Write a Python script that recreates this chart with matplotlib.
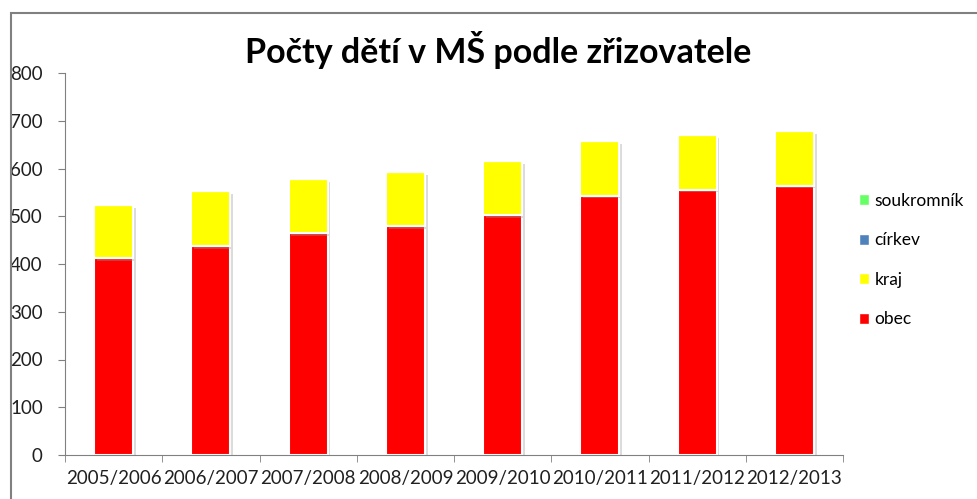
import numpy as np
import matplotlib.pyplot as plt
import matplotlib.patheffects as pe
from matplotlib.patches import Rectangle, Patch

# Data
roky = ['2005/2006', '2006/2007', '2007/2008', '2008/2009',
        '2009/2010', '2010/2011', '2011/2012', '2012/2013']
obec = [413, 438, 464, 480, 503, 543, 556, 564]
kraj = [111, 115, 114, 113, 113, 115, 114, 115]
cirkev = [0, 0, 0, 0, 0, 0, 0, 0]
soukromnik = [0, 0, 0, 0, 0, 0, 0, 0]

plt.rcParams['font.family'] = ['Lato', 'DejaVu Sans']

fig = plt.figure(figsize=(9.77, 4.99), dpi=100)
ax = fig.add_axes([65 / 977, 1 - 455 / 499, (843 - 65) / 977, (455 - 73) / 499])

x = np.arange(len(roky))
w = 0.4
shadow = [pe.SimplePatchShadow(offset=(2, -2), shadow_rgbFace='#999999', alpha=0.35), pe.Normal()]

dolni = np.zeros(len(roky))
serie = [(obec, '#FF0000', 'obec'), (kraj, '#FFFF00', 'kraj'),
         (cirkev, '#4F81BD', 'církev'), (soukromnik, '#66FF66', 'soukromník')]
for hodnoty, barva, nazev in serie:
    hodnoty = np.array(hodnoty)
    bars = ax.bar(x, hodnoty, w, bottom=dolni, color=barva, edgecolor='white',
                  linewidth=1.5, label=nazev)
    for b in bars:
        if b.get_height() > 0:
            b.set_path_effects(shadow)
    dolni = dolni + hodnoty

ax.set_xlim(-0.5, len(roky) - 0.5)
ax.set_ylim(0, 800)
ax.set_yticks(range(0, 801, 100))
ax.set_xticks(x)
ax.set_xticklabels(roky, fontsize=13.5, color='#202020')
ax.set_xticks(np.arange(-0.5, len(roky)), minor=True)
ax.tick_params(axis='x', which='major', length=0, pad=11)
ax.tick_params(axis='x', which='minor', length=5, color='#808080')
ax.tick_params(axis='y', length=5, color='#808080', labelsize=13.5, labelcolor='#202020', pad=11)
for s in ['top', 'right']:
    ax.spines[s].set_visible(False)
for s in ['left', 'bottom']:
    ax.spines[s].set_color('#808080')

fig.suptitle('Počty dětí v MŠ podle zřizovatele', fontsize=24.5, fontweight='bold',
             x=0.51, y=1 - 50 / 499, va='center')

handles = [Patch(facecolor=c, edgecolor='white', label=n) for _, c, n in serie[::-1]]
fig.legend(handles=handles, loc='center left', bbox_to_anchor=(859 / 977, 1 - 260 / 499),
           frameon=False, fontsize=12.5, handlelength=0.6, handleheight=0.6,
           handletextpad=0.3, labelspacing=1.35, borderpad=0, borderaxespad=0)

# ramecek grafu
fig.patches.append(Rectangle((11 / 977, -0.1), 1.2, 1 - 13 / 499 + 0.1,
                             transform=fig.transFigure, fill=False,
                             edgecolor='#808080', linewidth=1.5))

fig.savefig('out.png', dpi=100)
